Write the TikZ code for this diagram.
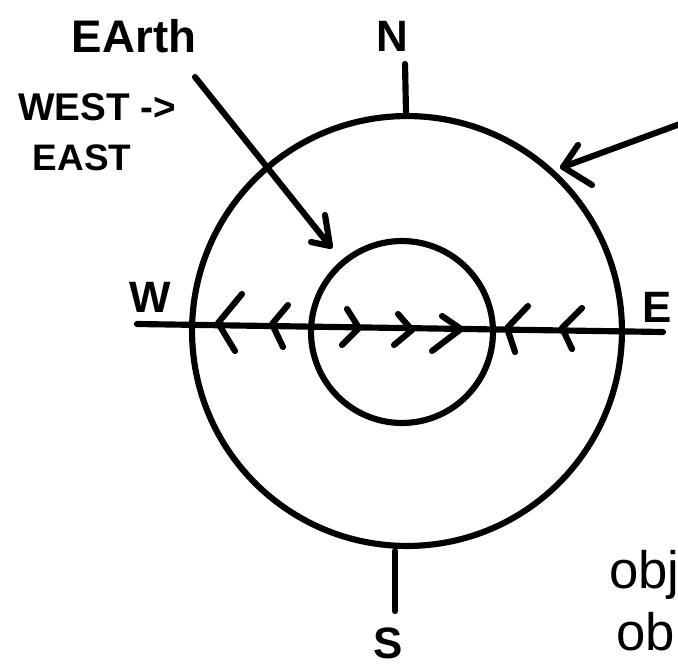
\documentclass[tikz,border=0pt]{standalone}
\usepackage{fontspec}
\setmainfont{Liberation Sans}
\begin{document}
\begin{tikzpicture}[x=0.02cm,y=-0.02cm,
  ln/.style={line width=3.5pt, line cap=round, line join=round},
  ring/.style={circle, draw, line width=3.5pt, inner sep=0pt},
  lbl/.style={inner sep=0pt, font=\bfseries\fontsize{25}{29}\selectfont},
  note/.style={inner sep=0pt, font=\bfseries\fontsize{22}{26}\selectfont},
  obtext/.style={inner sep=0pt, font=\fontsize{30}{34}\selectfont}]
\useasboundingbox (0,0) rectangle (678,665);
\clip (0,0) rectangle (678,665);
% circles
\node[ring, minimum size=8.6cm] (outer) at (407,331) {};
\node[ring, minimum size=3.64cm] (inner) at (402,332) {};
% horizontal W-E line
\coordinate (wend) at (137,324);
\coordinate (eend) at (663,332);
\draw[ln] (wend) -- (eend);
% chevrons pointing left (outer ring)
\draw[ln] (242,294) -- (218,323) -- (235,351);
\draw[ln] (288,305) -- (272,324) -- (283,347);
\draw[ln] (528,306) -- (507,328) -- (515,352);
\draw[ln] (582,308) -- (562,328) -- (572,349);
% chevrons pointing right (inner circle)
\draw[ln] (347,309) -- (359,328) -- (342,345);
\draw[ln] (398,314) -- (412,330) -- (394,345);
\draw[ln] (442,316) -- (461,329) -- (432,351);
% compass ticks
\coordinate (ntop) at (405,64);
\coordinate (nbot) at (406,112);
\draw[ln] (ntop) -- (nbot);
\coordinate (stop) at (395,551);
\coordinate (sbot) at (395,611);
\draw[ln] (stop) -- (sbot);
% compass letters
\node[lbl] (N) at (392,36) {N};
\node[lbl] (S) at (388,643) {S};
\node[lbl] (W) at (150,297) {W};
\node[lbl] (E) at (657,307) {E};
% labels top-left
\node[inner sep=0pt, font=\bfseries\fontsize{26}{30}\selectfont] (earth) at (134,36) {EArth};
\node[note, anchor=west] (west) at (18,107) {WEST ->};
\node[note, font=\bfseries\fontsize{21}{25}\selectfont] (east) at (82,158) {EAST};
% Earth arrow
\coordinate (ea) at (195,77);
\coordinate (eb) at (330,246);
\draw[ln] (ea) -- (eb);
\draw[ln] (325,215) -- (eb) -- (311,242);
% right arrow
\coordinate (ra) at (680,124);
\coordinate (rb) at (563,167);
\draw[ln] (ra) -- (rb);
\draw[ln] (578,145) -- (rb) -- (592,185);
% bottom-right text
\node[obtext, anchor=base west] (ob1) at (609,588) {obj};
\node[obtext, anchor=base west] (ob2) at (616,650) {ob};
\end{tikzpicture}
\end{document}
